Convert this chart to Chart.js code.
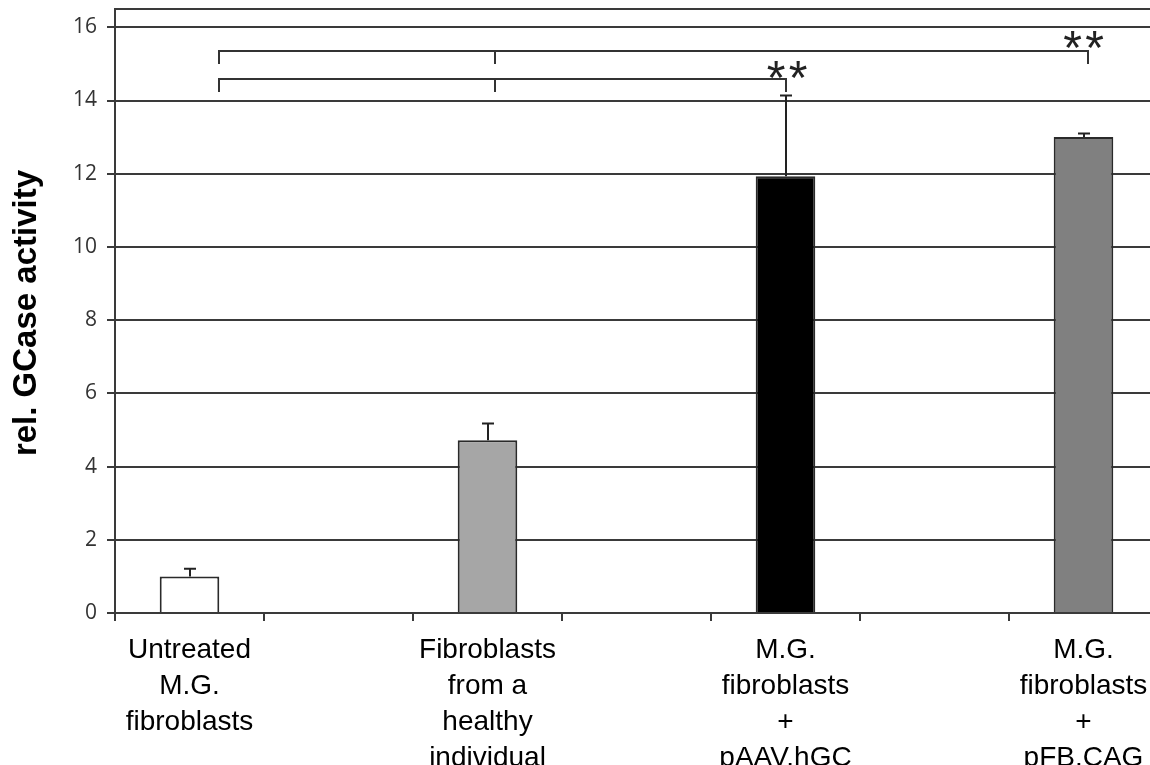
<!DOCTYPE html>
<html>
<head>
<meta charset="utf-8">
<script src="https://cdn.jsdelivr.net/npm/chart.js@4"></script>
<style>
  html, body { margin: 0; padding: 0; background: #fff; overflow: hidden; }
  #chart { display: block; }
</style>
</head>
<body>
<canvas id="chart" width="1165" height="765"></canvas>
<script>
// group labels (multi-line), one bar per group
const groupLabels = [
    ['Untreated', 'M.G.', 'fibroblasts'],
    ['Fibroblasts', 'from a', 'healthy', 'individual'],
    ['M.G.', 'fibroblasts', '+', 'pAAV.hGC'],
    ['M.G.', 'fibroblasts', '+', 'pFB.CAG']
];
const meanValues = [1.0, 4.72, 11.93, 13.0];
const errorTops = [1.21, 5.18, 14.14, 13.1];
const barColors = ['#ffffff', '#a6a6a6', '#000000', '#808080'];
const yTicks = [0, 2, 4, 6, 8, 10, 12, 14, 16];
const yMax = 16.5;

// significance brackets, x in slot units, level in y units
const brackets = [
    { xs: [0.2, 2.05, 6.03], level: 15.36 },
    { xs: [0.2, 2.05, 4.0], level: 14.59 }
];
const starMarks = [
    { x: 4.01, y: 14.88 },
    { x: 6.0, y: 15.7 }
];

// each group sits in every other slot, empty slots in between
const slotLabels = [];
const slotValues = [];
const slotColors = [];
groupLabels.forEach((lab, i) => {
    if (i > 0) {
        slotLabels.push('');
        slotValues.push(null);
        slotColors.push('#ffffff');
    }
    slotLabels.push(lab);
    slotValues.push(meanValues[i]);
    slotColors.push(barColors[i]);
});

const lineColor = '#3a3a3a';

const errorBars = {
    id: 'errorBars',
    afterDatasetsDraw(chart) {
        const { ctx, scales: { x, y } } = chart;
        ctx.save();
        ctx.strokeStyle = '#222';
        ctx.lineWidth = 2;
        meanValues.forEach((v, i) => {
            const px = Math.round(x.getPixelForValue(i * 2));
            const top = y.getPixelForValue(errorTops[i]);
            const base = y.getPixelForValue(v);
            ctx.beginPath();
            ctx.moveTo(px, base);
            ctx.lineTo(px, top);
            ctx.moveTo(px - 6, top);
            ctx.lineTo(px + 6, top);
            ctx.stroke();
        });

        // brackets
        ctx.strokeStyle = '#333';
        brackets.forEach(b => {
            const py = Math.round(y.getPixelForValue(b.level));
            const drop = 13;
            const xs = b.xs.map(v => Math.round(x.getPixelForValue(v)));
            ctx.beginPath();
            ctx.moveTo(xs[0], py);
            ctx.lineTo(xs[xs.length - 1], py);
            xs.forEach(px => {
                ctx.moveTo(px, py - 1);
                ctx.lineTo(px, py + drop);
            });
            ctx.stroke();
        });

        // stars
        ctx.fillStyle = '#222';
        ctx.font = '48px "Liberation Sans"';
        ctx.textAlign = 'center';
        ctx.textBaseline = 'alphabetic';
        starMarks.forEach(s => {
            const px = x.getPixelForValue(s.x);
            const py = y.getPixelForValue(s.y) + 26;
            ctx.fillText('*', px - 11, py);
            ctx.fillText('*', px + 11, py);
        });
        ctx.restore();
    }
};

const yTitle = {
    id: 'yTitle',
    afterDraw(chart) {
        const { ctx, chartArea } = chart;
        ctx.save();
        ctx.translate(36, (chartArea.top + chartArea.bottom) / 2 + 2);
        ctx.rotate(-Math.PI / 2);
        ctx.font = 'bold 33px "Liberation Sans"';
        ctx.fillStyle = '#000';
        ctx.textAlign = 'center';
        ctx.textBaseline = 'alphabetic';
        ctx.fillText('rel. GCase activity', 0, 0);
        ctx.restore();
    }
};

new Chart(document.getElementById('chart'), {
    type: 'bar',
    data: {
        labels: slotLabels,
        datasets: [{
            data: slotValues,
            backgroundColor: slotColors,
            borderColor: '#2a2a2a',
            borderWidth: 2,
            barPercentage: 0.4,
            categoryPercentage: 1.0
        }]
    },
    options: {
        responsive: false,
        animation: false,
        layout: { padding: { top: 9, right: 7, left: 0, bottom: 0 } },
        plugins: {
            legend: { display: false },
            tooltip: { enabled: false }
        },
        scales: {
            x: {
                offset: true,
                grid: { offset: true, drawOnChartArea: false, tickLength: 8, color: lineColor, lineWidth: 2 },
                border: { display: true, color: lineColor, width: 2 },
                ticks: {
                    autoSkip: false,
                    maxRotation: 0,
                    padding: 11,
                    color: '#000',
                    font: { family: 'Liberation Sans', size: 28, lineHeight: 1.29 }
                },
                afterFit: s => { s.height = 152; }
            },
            y: {
                min: 0,
                max: yMax,
                afterBuildTicks: s => { s.ticks = yTicks.concat([yMax]).map(v => ({ value: v })); },
                ticks: {
                    padding: 10,
                    color: '#333',
                    font: { family: 'Open Sans', size: 21 },
                    callback: v => yTicks.includes(v) ? v : ''
                },
                grid: {
                    color: lineColor,
                    lineWidth: 2,
                    tickLength: 8,
                    tickColor: c => (c.tick && c.tick.value > 16) ? 'rgba(0,0,0,0)' : lineColor
                },
                border: { display: true, color: lineColor, width: 2 },
                afterFit: s => {
                    s.width = 115;
                    s.paddingTop = 0;
                    s.paddingBottom = 0;
                }
            }
        }
    },
    plugins: [errorBars, yTitle]
});
</script>
</body>
</html>
